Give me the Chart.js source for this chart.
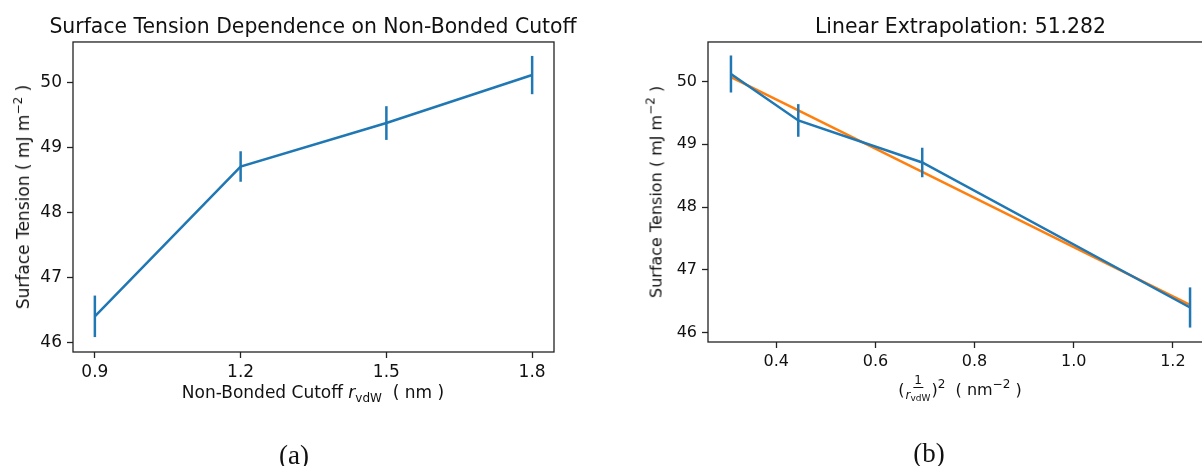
<!DOCTYPE html>
<html><head><meta charset="utf-8">
<script src="https://cdn.jsdelivr.net/npm/chart.js@4/dist/chart.umd.min.js"></script>
<style>
html,body{margin:0;padding:0;width:1202px;height:466px;overflow:hidden;background:#fff;}
.wrap{position:absolute;top:0;}
.lbl{position:absolute;font-family:"DejaVu Sans";font-size:17px;color:#111;white-space:nowrap;line-height:20px;}
.lbl.b{font-size:16px;}
.rot{transform:translate(-50%,-50%) rotate(-90deg);}
.ctr{transform:translateX(-50%);}
.sup{font-size:12px;position:relative;top:-7px;}
.sub{font-size:12px;position:relative;top:4px;}
.it{font-style:italic;}
.frac{display:inline-flex;flex-direction:column;align-items:center;vertical-align:middle;font-size:12px;line-height:12px;margin:0 1px;position:relative;top:-2px;}
.frac .num{border-bottom:1px solid #111;padding:0 1px 1px 1px;}
.frac .den{padding-top:1px;}
.tiny{font-size:9px;position:relative;top:2px;}
.cap{position:absolute;font-family:"Liberation Serif";font-size:27px;color:#111;transform:translate(-50%,-50%);}
</style></head><body>
<div class="wrap" style="left:600px;width:640px;height:466px"><canvas id="c2" width="640" height="466"></canvas></div>
<div class="wrap" style="left:0;width:626px;height:466px"><canvas id="c1" width="626" height="466"></canvas></div>

<div class="lbl rot" style="left:24px;top:197px">Surface Tension ( mJ m<span class="sup">−2</span> )</div>
<div class="lbl b rot" style="left:657px;top:192px">Surface Tension ( mJ m<span class="sup">−2</span> )</div>
<div class="lbl ctr" style="left:313px;top:382px">Non-Bonded Cutoff <span class="it">r</span><span class="sub">vdW</span>&nbsp; ( nm )</div>
<div class="lbl b ctr" style="left:960px;top:376px">(<span class="frac"><span class="num">1</span><span class="den"><span class="it">r</span><span class="tiny">vdW</span></span></span>)<span class="sup">2</span>&nbsp; ( nm<span class="sup">−2</span> )</div>
<div class="cap" style="left:294px;top:455px">(a)</div>
<div class="cap" style="left:929px;top:453px">(b)</div>

<script>
// ---- data ----
const cutoffs = [0.9, 1.2, 1.5, 1.8];
const inverseSquare = [1.2346, 0.6944, 0.4444, 0.3086];
const tension = [46.40, 48.71, 49.38, 50.12];
const tensionErr = [0.32, 0.235, 0.26, 0.295];
const fitTension = [46.44, 48.56, 49.54, 50.07];
const yTicks = [46, 47, 48, 49, 50];
const xTicksA = [0.9, 1.2, 1.5, 1.8];
const xTicksB = [0.4, 0.6, 0.8, 1.0, 1.2];
const titleA = "Surface Tension Dependence on Non-Bonded Cutoff";
const titleB = "Linear Extrapolation: 51.282";

const BLUE = '#1f77b4', ORANGE = '#ff7f0e', INK = '#111';

const errorBars = {
  id: 'errorBars',
  afterDatasetsDraw(chart) {
    const ctx = chart.ctx;
    chart.data.datasets.forEach((ds) => {
      if (!ds.errors) return;
      const xs = chart.scales.x, ys = chart.scales.y;
      ctx.save();
      ctx.strokeStyle = ds.borderColor;
      ctx.lineWidth = 2.5;
      ds.data.forEach((p, j) => {
        const e = ds.errors[j];
        const px = xs.getPixelForValue(p.x);
        ctx.beginPath();
        ctx.moveTo(px, ys.getPixelForValue(p.y - e));
        ctx.lineTo(px, ys.getPixelForValue(p.y + e));
        ctx.stroke();
      });
      ctx.restore();
    });
  }
};
const frame = {
  id: 'frame',
  afterDraw(chart) {
    const a = chart.chartArea, ctx = chart.ctx;
    ctx.save();
    ctx.strokeStyle = '#222';
    ctx.lineWidth = 1.3;
    ctx.strokeRect(a.left, a.top, a.right - a.left, a.bottom - a.top);
    ctx.restore();
  }
};

function makeChart(id, datasets, cfg) {
  const tickFont = { family: 'DejaVu Sans', size: cfg.tickSize };
  const scales = {
    x: {
      type: 'linear', min: cfg.xmin, max: cfg.xmax,
      afterBuildTicks: s => { s.ticks = cfg.xTicks.map(v => ({ value: v })); },
      afterFit: s => { s.height = cfg.xHeight; },
      grid: { display: true, drawOnChartArea: false, drawTicks: true, tickLength: 6, tickColor: '#222', tickWidth: 1.3 },
      border: { display: false },
      ticks: { color: INK, font: tickFont, padding: 4, maxRotation: 0, autoSkip: false,
               callback: v => v.toFixed(1) }
    },
    y: {
      type: 'linear', min: 45.85, max: 50.63,
      afterBuildTicks: s => { s.ticks = yTicks.map(v => ({ value: v })); },
      afterFit: s => { s.width = cfg.yWidth; },
      grid: { display: true, drawOnChartArea: false, drawTicks: true, tickLength: 6, tickColor: '#222', tickWidth: 1.3 },
      border: { display: false },
      ticks: { color: INK, font: tickFont, padding: 5, callback: v => String(v) }
    }
  };
  if (cfg.rightGap) {
    scales.yRight = {
      type: 'linear', position: 'right', display: true, min: 45.85, max: 50.63,
      afterFit: s => { s.width = cfg.rightGap; },
      grid: { display: false }, border: { display: false }, ticks: { display: false }
    };
  }
  return new Chart(document.getElementById(id), {
    type: 'scatter',
    data: { datasets },
    options: {
      responsive: false, animation: false, events: [],
      layout: { padding: cfg.pad },
      plugins: {
        legend: { display: false }, tooltip: { enabled: false },
        title: { display: true, text: cfg.title, fullSize: cfg.fullSize, color: INK,
                 font: { family: 'DejaVu Sans', size: 20.4, weight: 'normal', lineHeight: 1.2 },
                 padding: { top: 15, bottom: 2.5 } }
      },
      scales
    },
    plugins: [errorBars, frame]
  });
}

const lineStyle = { showLine: true, pointRadius: 0, borderWidth: 2.5, tension: 0, fill: false };

// left panel: title box 36..590 (centred on the axes), axes 73..554
makeChart('c1', [
  Object.assign({ data: cutoffs.map((x, i) => ({ x, y: tension[i] })), borderColor: BLUE, backgroundColor: BLUE, errors: tensionErr }, lineStyle)
], { xTicks: xTicksA, xmin: 0.855, xmax: 1.845, title: titleA, fullSize: true,
     pad: { left: 36, right: 626 - 590, top: 0, bottom: 0 },
     tickSize: 17, yWidth: 73 - 36, rightGap: 590 - 554, xHeight: 466 - 352 });

makeChart('c2', [
  Object.assign({ data: inverseSquare.map((x, i) => ({ x, y: fitTension[i] })), borderColor: ORANGE, backgroundColor: ORANGE, order: 2 }, lineStyle),
  Object.assign({ data: inverseSquare.map((x, i) => ({ x, y: tension[i] })), borderColor: BLUE, backgroundColor: BLUE, errors: tensionErr, order: 1 }, lineStyle)
], { xTicks: xTicksB, xmin: 0.2623, xmax: 1.2809, title: titleB, fullSize: false,
     pad: { left: 0, right: 640 - 613, top: 0, bottom: 0 },
     tickSize: 16, yWidth: 108, rightGap: 0, xHeight: 466 - 342 });
</script>
</body></html>
